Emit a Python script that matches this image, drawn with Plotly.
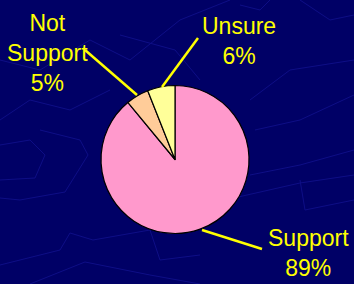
import plotly.graph_objects as go

W, H = 354, 284

labels = ["Support", "Not<br>Support", "Unsure"]
values = [89, 5, 6]
colors = ["#FF99CC", "#FFCC99", "#FFFF99"]

def px(x, y):
    return x / W, (H - y) / H

# pie placement (pixels): center & radius
cx, cy, r = 175, 159.5, 74
x0, y0 = px(cx - r, cy + r)
x1, y1 = px(cx + r, cy - r)

fig = go.Figure(go.Pie(
    labels=labels, values=values, sort=False, direction="clockwise", rotation=0,
    marker=dict(colors=colors, line=dict(color="#000000", width=1.2)),
    textinfo="none", hoverinfo="label+percent", showlegend=False,
    domain=dict(x=[x0, x1], y=[y0, y1]),
))

font = dict(family="Liberation Sans, Arial, sans-serif", size=23, color="#FFFF00")

label_pos = [(308, 253), (47, 53), (239, 41)]
leaders = [((202, 230), (262, 249)), ((85, 50), (137, 95)), ((198, 38), (162, 87))]

annotations = []
shapes = []

# faint background texture lines
bg_paths = [
    [(0, 60), (40, 70), (90, 40), (130, 60), (180, 20), (230, 0)],
    [(0, 120), (30, 100), (70, 110), (110, 90)],
    [(0, 180), (35, 178), (45, 155), (30, 140), (0, 145)],
    [(0, 198), (20, 200), (65, 192), (88, 155), (80, 140), (40, 130)],
    [(0, 265), (60, 250), (70, 233), (93, 240), (150, 230), (160, 260), (200, 255)],
    [(30, 284), (85, 262), (150, 275), (200, 284)],
    [(250, 100), (290, 70), (354, 60)],
    [(255, 130), (300, 120), (354, 95)],
    [(250, 175), (300, 165), (354, 150)],
    [(225, 200), (300, 183), (354, 175)],
    [(300, 0), (330, 20), (354, 15)],
    [(270, 0), (260, 10), (240, 5)],
    [(120, 35), (175, 50), (200, 80)],
    [(300, 180), (305, 210), (354, 200)],
]
for pts in bg_paths:
    d = "M " + " L ".join(f"{px(x, y)[0]:.4f},{px(x, y)[1]:.4f}" for x, y in pts)
    shapes.append(dict(type="path", xref="paper", yref="paper", path=d,
                       line=dict(color="#0E0E86", width=1), layer="below"))

for lab, v, (tx, ty), ((ax0, ay0), (ax1, ay1)) in zip(labels, values, label_pos, leaders):
    pxx, pyy = px(tx, ty)
    annotations.append(dict(xref="paper", yref="paper", x=pxx, y=pyy,
                            text=f"{lab}<br>{round(100 * v / sum(values))}%",
                            showarrow=False, font=font, align="center",
                            xanchor="center", yanchor="middle"))
    a, b = px(ax0, ay0)
    c, d = px(ax1, ay1)
    shapes.append(dict(type="line", xref="paper", yref="paper", x0=a, y0=b, x1=c, y1=d,
                       line=dict(color="#FFFF00", width=2.5)))

fig.update_layout(
    width=W, height=H, margin=dict(l=0, r=0, t=0, b=0),
    paper_bgcolor="#000066", plot_bgcolor="#000066",
    annotations=annotations, shapes=shapes,
)

fig.write_html("out.html", config={"displayModeBar": False},
               post_script="document.body.style.margin='0';document.body.style.overflow='hidden';")
